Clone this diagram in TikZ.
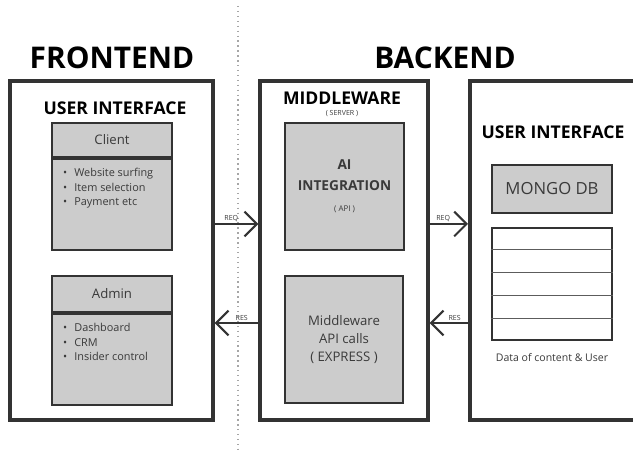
\documentclass[tikz,border=0pt]{standalone}
\usepackage{fontspec}
\setmainfont{Open Sans}
\usetikzlibrary{arrows.meta,positioning,calc}
\usepackage{xcolor}
\definecolor{boxline}{HTML}{333333}
\definecolor{boxfill}{HTML}{CCCCCC}
\definecolor{boxtext}{HTML}{3A3A3A}

\begin{document}
\begin{tikzpicture}[x=0.02cm,y=-0.02cm,
  outerbox/.style={draw=boxline, line width=2pt, inner sep=0pt},
  inbox/.style={draw=boxline, line width=1.3pt, fill=boxfill, inner sep=0pt, text=boxtext},
  flow/.style={draw=boxline, line width=1.1pt, -{Straight Barb[length=7pt,width=14pt,line width=1.2pt]}},
  tag/.style={font=\fontsize{4}{5}\selectfont, text=boxtext, inner sep=1pt},
  heading/.style={font=\fontsize{17}{19}\selectfont\bfseries},
  title/.style={font=\fontsize{10}{12}\selectfont\bfseries},
  item/.style={font=\fontsize{6.2}{8.3}\selectfont, text=boxtext, align=left, inner sep=0pt}]

\useasboundingbox (0,0) rectangle (633,452);
\clip (0,0) rectangle (633,452);

% Divider between the two halves
\coordinate (divtop) at (238,6);
\coordinate (divbot) at (238,452);
\draw[gray!70, dotted, line width=0.8pt] (divtop) -- (divbot);

\node[heading] (fe) at (112,58) {FRONTEND};
\node[heading] (be) at (445,58) {BACKEND};

% Outer boxes
\node[outerbox, minimum width=4.06cm, minimum height=6.78cm] (front) at (111.5,250.5) {};
\node[outerbox, minimum width=3.36cm, minimum height=6.78cm] (mid) at (344,250.5) {};
\node[outerbox, minimum width=4.4cm, minimum height=6.78cm, anchor=west] (back) at (468,250.5) {};

\node[title] (fui) at (115,108) {USER INTERFACE};
\node[title] (mw) at (342,98) {MIDDLEWARE};
\node[tag] (srv) at (342,114) {( SERVER )};
\node[title] (bui) at (553,132) {USER INTERFACE};

% Client and admin cards
\node[inbox, minimum width=2.4cm, minimum height=0.68cm, font=\fontsize{7.5}{9}\selectfont] (clienthead) at (112,140) {Client};
\node[inbox, minimum width=2.4cm, minimum height=1.82cm, below=0pt of clienthead] (clientbody) {};
\node[item, anchor=north west] (clientlist) at ($(clientbody.north west)+(12,10)$) {•\hspace{4pt}Website surfing\\•\hspace{4pt}Item selection\\•\hspace{4pt}Payment etc};

\node[inbox, minimum width=2.4cm, minimum height=0.72cm, font=\fontsize{7.5}{9}\selectfont] (adminhead) at (112,294) {Admin};
\node[inbox, minimum width=2.4cm, minimum height=1.82cm, below=0pt of adminhead] (adminbody) {};
\node[item, anchor=north west] (adminlist) at ($(adminbody.north west)+(12,10)$) {•\hspace{4pt}Dashboard\\•\hspace{4pt}CRM\\•\hspace{4pt}Insider control};

% Middleware cards
\node[inbox, minimum width=2.38cm, minimum height=2.54cm, align=center] (ai) at (344.5,186.5)
  {{\fontsize{7.8}{10.5}\selectfont\bfseries AI}\\{\fontsize{7.8}{10.5}\selectfont\bfseries INTEGRATION}\\{\fontsize{4.5}{10.5}\selectfont ( API )}};
\node[inbox, minimum width=2.36cm, minimum height=2.54cm, align=center, font=\fontsize{7.5}{10.5}\selectfont] (express) at (344,339.5)
  {Middleware\\API calls\\( EXPRESS )};

% Database side
\node[inbox, minimum width=2.4cm, minimum height=0.96cm, font=\fontsize{9.5}{11}\selectfont] (mongo) at (552,189) {MONGO DB};
\node[draw=boxline, line width=1.3pt, fill=white, minimum width=2.4cm, minimum height=2.24cm, inner sep=0pt] (table) at (552,284) {};
\foreach \r in {1,...,4}
  \draw[boxline!80, line width=0.7pt] ($(table.north west)!\r/5!(table.south west)$) -- ($(table.north east)!\r/5!(table.south east)$);
\node[font=\fontsize{6}{7}\selectfont, text=boxtext, below=0.12cm of table] (tablecap) {Data of content \& User};

% Requests and responses
\coordinate (reqrow) at (0,224);
\coordinate (resrow) at (0,323);
\draw[flow] (front.east |- reqrow) -- node[tag, above, pos=0.38] {REQ} (mid.west |- reqrow);
\draw[flow] (mid.west |- resrow) -- node[tag, above, pos=0.38] {RES} (front.east |- resrow);
\draw[flow] (mid.east |- reqrow) -- node[tag, above, pos=0.35] {REQ} (back.west |- reqrow);
\draw[flow] (back.west |- resrow) -- node[tag, above, pos=0.35] {RES} (mid.east |- resrow);

\end{tikzpicture}
\end{document}
